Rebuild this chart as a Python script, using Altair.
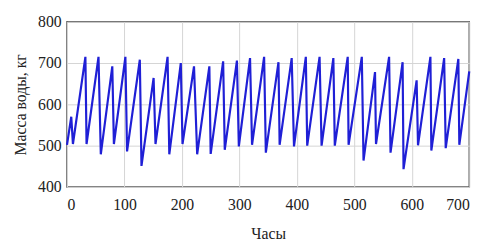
import altair as alt
import pandas as pd

hours = [0, 7.4, 10.3, 32, 34, 54.8, 58.8, 78.8, 81.6, 101.6, 104.5, 126.7, 129.6,
         150.7, 154, 175, 178, 198, 201, 221, 226.5, 247.7, 250, 271.7, 274.5,
         295.7, 299, 318.5, 322, 343, 346, 368, 370, 391, 395, 415.6, 418, 439.5,
         443, 463.5, 466, 488.5, 490, 513, 516, 536, 537.7, 560.5, 563, 584,
         585.6, 608.4, 610.8, 632.4, 634, 656.3, 659, 681, 682.7, 700]
mass = [502, 570, 504, 715, 504, 715, 479, 692, 504, 715, 486, 708, 451, 664,
        504, 715, 479, 700, 504, 692, 479, 692, 480, 704, 490, 706, 498, 712,
        502, 715, 483, 702, 502, 712, 498, 715, 500, 715, 500, 712, 500, 715,
        502, 715, 464, 678, 504, 715, 483, 702, 443, 658, 501, 715, 488, 712,
        494, 710, 502, 680]

x_ticks = [0, 100, 200, 300, 400, 500, 600, 700]
y_ticks = [400, 500, 600, 700, 800]

df = pd.DataFrame({"h": hours, "m": mass})

FONT = "Liberation Serif"

chart = alt.Chart(df).mark_line(color="#1f1fd6", strokeWidth=2.2).encode(
    x=alt.X("h:Q", scale=alt.Scale(domain=[0, 700], nice=False),
            axis=alt.Axis(title="Часы", values=x_ticks, ticks=False, domain=False,
                          labelPadding=10, titleY=47, titleBaseline="middle",
                          gridColor="#d4d4d4", labelColor="#222", titleColor="#222")),
    y=alt.Y("m:Q", scale=alt.Scale(domain=[400, 800], nice=False),
            axis=alt.Axis(title="Масса воды, кг", values=y_ticks, ticks=False, domain=False,
                          labelPadding=6, titleAngle=270, titleX=-47, titleY=84,
                          titleAlign="center", titleBaseline="middle",
                          gridColor="#d4d4d4", labelColor="#222", titleColor="#222")),
    order=alt.Order("h:Q"),
).properties(
    width=409, height=168,
    autosize=alt.AutoSizeParams(type="none"),
    padding={"left": 60, "top": 12, "right": 16, "bottom": 54},
).configure_view(
    stroke="#555", strokeWidth=1.5
).configure_axis(
    labelFont=FONT, titleFont=FONT, labelFontSize=16, titleFontSize=16,
    titleFontWeight="normal"
)

chart.save("out.html", embed_options={"renderer": "svg", "actions": False})
